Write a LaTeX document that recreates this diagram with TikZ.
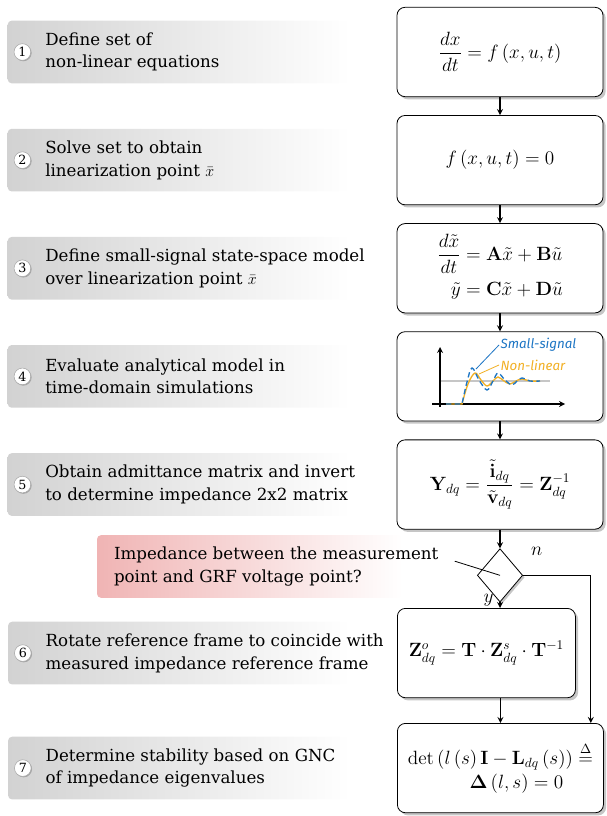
\documentclass[tikz,border=0pt]{standalone}
\usepackage{amsmath,amssymb}
\usepackage[no-math]{fontspec}
\setmainfont{DejaVu Serif}
\newfontfamily\plotfont{Fira Sans}
\usepackage{tikz}
\usetikzlibrary{shapes.geometric,arrows,positioning,calc,shadows}
\definecolor{signalblue}{RGB}{28,117,196}
\definecolor{signalorange}{RGB}{242,176,36}
\definecolor{stepgray}{RGB}{210,210,210}
\definecolor{querypink}{RGB}{240,180,180}

\begin{document}
\begin{tikzpicture}[
    x=0.75pt, y=-0.75pt,
    node distance=13.5pt and 34.5pt,
    >=stealth,
    eqbox/.style={rectangle, draw=black, line width=0.6pt, fill=white, rounded corners=6pt, align=center, minimum width=154.5pt, minimum height=67pt, inner sep=2pt, font=\fontsize{14}{18}\selectfont, drop shadow={shadow xshift=2pt, shadow yshift=-2pt, opacity=0.45}},
    stepbox/.style={rectangle, rounded corners=3pt, left color=stepgray, right color=white, minimum width=257pt, minimum height=47pt},
    querybox/.style={rectangle, rounded corners=3pt, left color=querypink, right color=white, minimum width=229.5pt, minimum height=47pt},
    steptext/.style={anchor=west, align=left, inner sep=0pt, font=\fontsize{12.5}{17}\selectfont},
    stepnum/.style={circle, draw=gray!70, fill=white, minimum size=12.5pt, inner sep=0pt, font=\fontsize{9.5}{9.5}\selectfont, drop shadow={shadow xshift=0.7pt, shadow yshift=-0.7pt, opacity=0.55}},
    decision/.style={diamond, draw=black, line width=0.6pt, fill=white, minimum width=34pt, minimum height=40pt, inner sep=0pt, drop shadow={shadow xshift=1.5pt, shadow yshift=-1.5pt, opacity=0.45}},
    flow/.style={->, line width=1pt},
    plotlbl/.style={anchor=west, inner sep=1pt, font=\fontsize{10}{12}\plotfont\itshape}
]
    \useasboundingbox (0,0) rectangle (606,816);

    % right column
    \node (eq1) [eqbox] at (500,52) {$\dfrac{dx}{dt} = f\left(x,u,t\right)$};
    \node (eq2) [eqbox, below=of eq1] {$f\left(x,u,t\right) = 0$};
    \node (eq3) [eqbox, below=of eq2] {$\begin{aligned}\frac{d\tilde{x}}{dt} &= \mathbf{A}\tilde{x}+\mathbf{B}\tilde{u}\\ \tilde{y} &= \mathbf{C}\tilde{x}+\mathbf{D}\tilde{u}\end{aligned}$};
    \node (eq4) [eqbox, below=of eq3] {};
    \node (eq5) [eqbox, below=of eq4] {$\mathbf{Y}_{dq} = \dfrac{\tilde{\mathbf{i}}_{dq}}{\tilde{\mathbf{v}}_{dq}} = \mathbf{Z}_{dq}^{-1}$};
    \node (dec) [decision, below=14pt of eq5] {};
    \node (eq6) [eqbox, minimum width=133.5pt, anchor=north west] at (397,608) {$\mathbf{Z}^{o}_{dq} = \mathbf{T}\cdot\mathbf{Z}^{s}_{dq}\cdot\mathbf{T}^{-1}$};
    \node (eq7) [eqbox, anchor=north west] at (397,723) {$\det\left(l\left(s\right)\mathbf{I}-\mathbf{L}_{dq}\left(s\right)\right)\stackrel{\Delta}{=}$\\\hspace*{24pt}$\mathbf{\Delta}\left(l,s\right)=0$};

    % left column
    \node (s1) [stepbox, left=of eq1] {};
    \node (c1) [stepnum] at ([xshift=11.25pt]s1.west) {1};
    \node (t1) [steptext, right=10.5pt of c1] {Define set of\\non-linear equations};
    \node (s2) [stepbox, left=of eq2] {};
    \node (c2) [stepnum] at ([xshift=11.25pt]s2.west) {2};
    \node (t2) [steptext, right=10.5pt of c2] {Solve set to obtain\\linearization point $\bar{x}$};
    \node (s3) [stepbox, left=of eq3] {};
    \node (c3) [stepnum] at ([xshift=11.25pt]s3.west) {3};
    \node (t3) [steptext, right=10.5pt of c3] {Define small-signal state-space model\\over linearization point $\bar{x}$};
    \node (s4) [stepbox, left=of eq4] {};
    \node (c4) [stepnum] at ([xshift=11.25pt]s4.west) {4};
    \node (t4) [steptext, right=10.5pt of c4] {Evaluate analytical model in\\time-domain simulations};
    \node (s5) [stepbox, left=of eq5] {};
    \node (c5) [stepnum] at ([xshift=11.25pt]s5.west) {5};
    \node (t5) [steptext, right=10.5pt of c5] {Obtain admittance matrix and invert\\to determine impedance 2x2 matrix};
    \node (s6) [stepbox, left=of eq6] {};
    \node (c6) [stepnum] at ([xshift=11.25pt]s6.west) {6};
    \node (t6) [steptext, right=10.5pt of c6] {Rotate reference frame to coincide with\\measured impedance reference frame};
    \node (s7) [stepbox, left=of eq7] {};
    \node (c7) [stepnum] at ([xshift=11.25pt]s7.west) {7};
    \node (t7) [steptext, right=10.5pt of c7] {Determine stability based on GNC\\of impedance eigenvalues};

    % question
    \node (qbox) [querybox] at (250,566.5) {};
    \node (qtext) [steptext] at ([xshift=12.75pt]qbox.west) {Impedance between the measurement\\point and GRF voltage point?};

    % time-domain sketch inside eq4
    \draw[gray!45, line width=1pt] (440,381) -- (550,381);
    \draw[->, line width=1pt] (432,404) -- (565,404);
    \draw[->, line width=1pt] (440,407) -- (440,347);
    \draw[signalorange, line width=1pt] (446,404) -- (462,404) -- plot[smooth, tension=0.6] coordinates {(462,404) (468,384) (475,373) (481,380) (487,386) (493,381) (498,377) (504,381) (510,384) (516,381) (522,379) (530,381) (540,381)};
    \draw[signalblue, line width=1pt, dash pattern=on 4pt off 2.5pt] (446,404) -- (462,404) -- plot[smooth, tension=0.6] coordinates {(462,404) (467,382) (472,368) (479,380) (487,390) (493,381) (498,373) (505,380) (512,385) (517,381) (522,378) (530,381) (540,381)};
    \coordinate (sspeak) at (476,369);
    \coordinate (nlpeak) at (479,374);
    \node (sslbl) [plotlbl, text=signalblue] at (499,345) {Small-signal};
    \node (nllbl) [plotlbl, text=signalorange] at (499,365) {Non-linear};
    \draw[signalblue, line width=0.6pt] (sslbl.west) -- (sspeak);
    \draw[signalorange, line width=0.6pt] (nllbl.west) -- (nlpeak);

    % connectors
    \draw[flow] (eq1) -- (eq2);
    \draw[flow] (eq2) -- (eq3);
    \draw[flow] (eq3) -- (eq4);
    \draw[flow] (eq4) -- (eq5);
    \draw[flow] (eq5) -- (dec);
    \draw[line width=0.6pt] ([xshift=12pt,yshift=4pt]qtext.east) -- (dec.center);
    \draw[flow] (dec.south) -- node[pos=0, left=1pt, yshift=2pt, font=\fontsize{14}{14}\selectfont] {$y$} (dec.south |- eq6.north);
    \draw[flow] (dec.east) -| node[pos=0.1, above=11pt, font=\fontsize{14}{14}\selectfont] {$n$} ([xshift=-9.75pt]eq7.north east);
    \draw[flow] (eq6.south -| eq7.north) -- (eq7.north);

\end{tikzpicture}
\end{document}
